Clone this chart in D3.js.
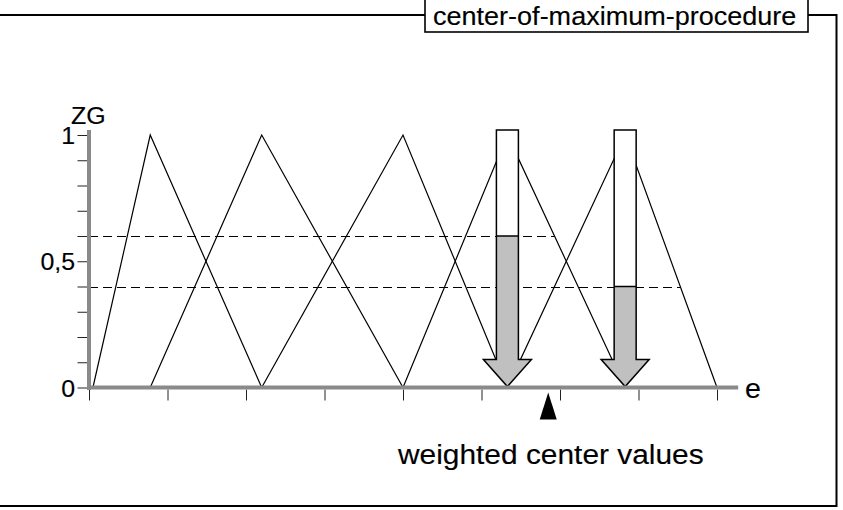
<!DOCTYPE html>
<html>
<head>
<meta charset="utf-8">
<script src="https://cdn.jsdelivr.net/npm/d3@7"></script>
<style>
  html, body { margin: 0; padding: 0; background: #fff; }
  svg { display: block; font-family: "Liberation Sans", Arial, sans-serif; }
  text { stroke: #000; stroke-width: 0.15px; }
</style>
</head>
<body>
<div id="chart"></div>
<script>
// membership terms (e-units): left foot, peak, right foot
const termLeft  = [0.05, 0.78, 2.2, 4.0, 5.33];
const termPeak  = [0.78, 2.2, 4.0, 5.33, 6.83];
const termRight = [2.2, 4.0, 5.33, 6.83, 8.0];

// activated terms: which term, degree
const activeTerm  = [3, 4];
const activeLevel = [0.6, 0.4];

const weightedCenter = 5.85;

const eTicks  = [0, 1, 2, 3, 4, 5, 6, 7, 8];
const zgTicks = [0, 0.1, 0.2, 0.3, 0.4, 0.5, 0.6, 0.7, 0.8, 0.9, 1];
const zgLabelVals = [0, 0.5, 1];
const zgLabelText = ["0", "0,5", "1"];

(function () {
  const W = 843, H = 510;
  const stretch = 1.06;
  const axisGray = "#8a8a8a";

  const svg = d3.select("#chart").append("svg")
    .attr("width", W).attr("height", H);

  const x = d3.scaleLinear().domain([0, 8]).range([89, 717]);
  const y = d3.scaleLinear().domain([0, 1]).range([387.5, 135]);

  function label(txt, px, py, size, anchor) {
    svg.append("text")
      .attr("transform", `translate(${px},${py}) scale(${stretch},1)`)
      .style("font-size", size + "px")
      .attr("text-anchor", anchor || "start")
      .text(txt);
  }

  // frame
  svg.append("path")
    .attr("d", "M0,15 H425 M808,15 H836.5 V506 H0")
    .attr("fill", "none").attr("stroke", "#000").attr("stroke-width", 2);
  svg.append("rect")
    .attr("x", 425).attr("y", -2).attr("width", 383).attr("height", 34)
    .attr("fill", "#fff").attr("stroke", "#000").attr("stroke-width", 1.6);
  label("center-of-maximum-procedure", 433, 25, 25.5);

  // dashed activation levels
  svg.append("g").selectAll("line")
    .data(activeLevel)
    .join("line")
    .attr("x1", x(0))
    .attr("x2", (d, i) => {
      const t = activeTerm[i];
      return x(termPeak[t] + (1 - d) * (termRight[t] - termPeak[t]));
    })
    .attr("y1", d => Math.round(y(d)) + 0.5).attr("y2", d => Math.round(y(d)) + 0.5)
    .attr("stroke", "#000").attr("stroke-width", 1)
    .attr("stroke-dasharray", "9,5");

  // membership triangles
  const line = d3.line().x(d => x(d[0])).y(d => y(d[1]));
  svg.append("g").selectAll("path")
    .data(termPeak.map((p, i) => [[termLeft[i], 0], [p, 1], [termRight[i], 0]]))
    .join("path")
    .attr("d", line)
    .attr("fill", "none").attr("stroke", "#000").attr("stroke-width", 1.2);

  // arrows
  const shaftHW = 11, headHW = 24, headH = 27;
  activeTerm.forEach((t, i) => {
    const cx = x(termPeak[t]);
    const top = y(1) - 5;
    const tip = y(0) - 1;
    const base = tip - headH;
    const lvl = y(activeLevel[i]);
    const g = svg.append("g");
    const outline = `M${cx - shaftHW},${top} H${cx + shaftHW} V${base} H${cx + headHW} L${cx},${tip} L${cx - headHW},${base} H${cx - shaftHW} Z`;
    g.append("path").attr("d", outline).attr("fill", "#c0c0c0");
    g.append("rect")
      .attr("x", cx - shaftHW).attr("y", top)
      .attr("width", shaftHW * 2).attr("height", lvl - top)
      .attr("fill", "#fff");
    g.append("line")
      .attr("x1", cx - shaftHW).attr("x2", cx + shaftHW)
      .attr("y1", lvl).attr("y2", lvl)
      .attr("stroke", "#000").attr("stroke-width", 1.5);
    g.append("path").attr("d", outline)
      .attr("fill", "none").attr("stroke", "#000").attr("stroke-width", 1.5)
      .attr("stroke-linejoin", "miter");
  });

  // ticks
  const xAxis = svg.append("g")
    .attr("transform", `translate(0,${y(0) + 2})`)
    .call(d3.axisBottom(x).tickValues(eTicks).tickSize(11).tickFormat(""));
  xAxis.select(".domain").remove();
  xAxis.selectAll(".tick line").attr("stroke", "#222");

  const yAxis = svg.append("g")
    .attr("transform", `translate(${x(0) - 1.5},0)`)
    .call(d3.axisLeft(y).tickValues(zgTicks).tickSize(10).tickFormat(""));
  yAxis.select(".domain").remove();
  yAxis.selectAll(".tick line").attr("stroke", "#222");

  // axis lines
  svg.append("line")
    .attr("x1", x(0)).attr("x2", x(0))
    .attr("y1", y(-0.01)).attr("y2", y(1.02))
    .attr("stroke", axisGray).attr("stroke-width", 4);
  svg.append("line")
    .attr("x1", x(0) - 2).attr("x2", x(8.27))
    .attr("y1", y(0)).attr("y2", y(0))
    .attr("stroke", axisGray).attr("stroke-width", 4);

  // y labels
  zgLabelVals.forEach((v, i) => label(zgLabelText[i], 75, y(v) + 9, 23.5, "end"));
  label("ZG", 71, 124, 23.5);
  label("e", 745, 398, 27);

  // weighted center marker
  const wc = x(weightedCenter);
  svg.append("path")
    .attr("d", `M${wc},${y(0) + 5} L${wc + 8.5},${y(0) + 32} L${wc - 8.5},${y(0) + 32} Z`)
    .attr("fill", "#000");
  label("weighted center values", 398, 464, 28.2);
})();
</script>
</body>
</html>
